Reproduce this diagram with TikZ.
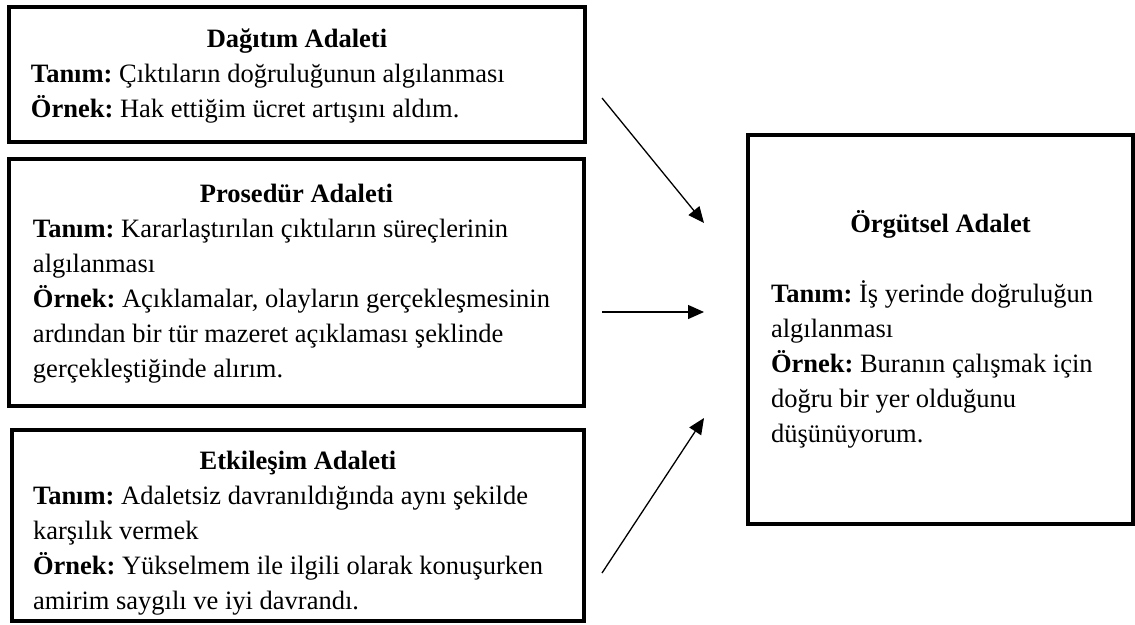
\documentclass[tikz,border=0pt]{standalone}
\usepackage{fontspec}
\setmainfont{Liberation Serif}
\usetikzlibrary{arrows.meta}

\tikzset{
  kutu/.style={draw, line width=4pt, inner sep=0pt, outer sep=0pt, anchor=north west,
    font=\fontsize{26.5pt}{35pt}\selectfont},
  ok/.style={line width=1.3pt, -{Triangle[length=16pt,width=14pt]}}
}

% width, height, top pad, left pad, title, body
\newcommand{\kutuyazi}[6]{%
  \parbox[c][#2][t]{#1}{\parskip=0pt\frenchspacing
    \vspace*{#3}%
    {\centering\bfseries\rule{0pt}{26pt}#5\par}%
    \raggedright\leftskip=#4 #6\par}}

\begin{document}
\begin{tikzpicture}[x=1pt,y=-1pt]
\useasboundingbox (0,0) rectangle (1135,624);

\node[kutu] (dagitim) at (9,7) {\kutuyazi{576pt}{135pt}{14pt}{22pt}{Dağıtım Adaleti}{%
\textbf{Tanım:} Çıktıların doğruluğunun algılanması\\
\textbf{Örnek:} Hak ettiğim ücret artışını aldım.}};

\node[kutu] (prosedur) at (9,159) {\kutuyazi{575pt}{247pt}{17pt}{24pt}{Prosedür Adaleti}{%
\textbf{Tanım:} Kararlaştırılan çıktıların süreçlerinin\\
algılanması\\
\textbf{Örnek:} Açıklamalar, olayların gerçekleşmesinin\\
ardından bir tür mazeret açıklaması şeklinde\\
gerçekleştiğinde alırım.}};

\node[kutu] (etkilesim) at (12,430) {\kutuyazi{572pt}{191pt}{13pt}{21pt}{Etkileşim Adaleti}{%
\textbf{Tanım:} Adaletsiz davranıldığında aynı şekilde\\
karşılık vermek\\
\textbf{Örnek:} Yükselmem ile ilgili olarak konuşurken\\
amirim saygılı ve iyi davrandı.}};

\node[kutu] (orgutsel) at (748,135) {\kutuyazi{385pt}{389pt}{71pt}{23pt}{Örgütsel Adalet}{%
\vspace{35pt}%
\textbf{Tanım:} İş yerinde doğruluğun\\
algılanması\\
\textbf{Örnek:} Buranın çalışmak için\\
doğru bir yer olduğunu\\
düşünüyorum.}};

\coordinate (b1) at (602,98);
\coordinate (u1) at (704,223);
\coordinate (b2) at (602,312);
\coordinate (u2) at (704,312);
\coordinate (b3) at (602,573);
\coordinate (u3) at (704,418);

\draw [ok] (b1) -- (u1);
\draw [ok] (b2) -- (u2);
\draw [ok] (b3) -- (u3);

\end{tikzpicture}
\end{document}
